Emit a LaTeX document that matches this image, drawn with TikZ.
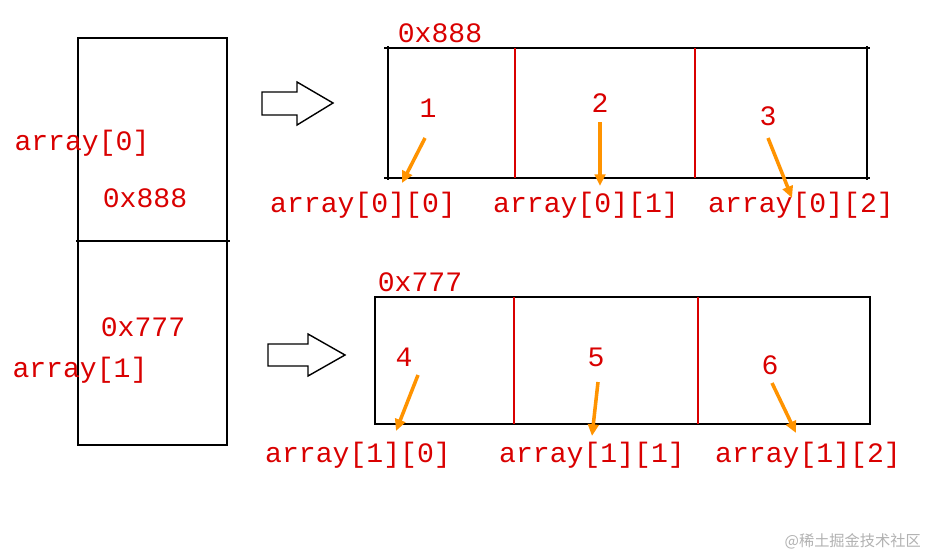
\documentclass[tikz,border=0pt]{standalone}
\usepackage{fontspec}
\setmainfont{Liberation Mono}
\newfontfamily\cjk{Noto Sans CJK SC}
\usetikzlibrary{arrows.meta}
\begin{document}
\begin{tikzpicture}[x=0.03cm,y=-0.03cm,
 box/.style={line width=1.6pt},
 sep/.style={red!85!black,line width=1.4pt},
 lab/.style={text=red!85!black,font=\fontsize{24}{26}\selectfont,inner sep=0pt},
 ptr/.style={draw=orange!85!yellow,line width=3pt,-{Triangle[length=10pt,width=9pt]},shorten <=0pt},
 hollow/.style={line width=1.2pt,fill=white}]
\useasboundingbox (0,0) rectangle (931,559);
\fill[white] (0,0) rectangle (931,559);
% left box
\draw[box] (78,38) rectangle (227,445);
\draw[box] (76,241) -- (230,241);
\node[lab] (a0) at (82,143) {array[0]};
\node[lab] (p0) at (145,198) {0x888};
\node[lab] (p1) at (143,327) {0x777};
\node[lab] (a1) at (80,370) {array[1]};
% hollow arrows
\draw[hollow] (262,92)--(297,92)--(297,82)--(333,103)--(297,125)--(297,115)--(262,115)--cycle;
\draw[hollow] (268,344)--(308,344)--(308,334)--(345,355)--(308,376)--(308,366)--(268,366)--cycle;
% top array
\draw[box] (384,48) -- (870,48);
\draw[box] (384,178) -- (870,178);
\draw[box] (388,46) -- (388,180);
\draw[box] (867,46) -- (867,180);
\draw[sep] (515,48) -- (515,178);
\draw[sep] (695,48) -- (695,178);
\node[lab] (t0) at (440,33) {0x888};
\node[lab] (n1) at (428,108) {1};
\node[lab] (n2) at (600,103) {2};
\node[lab] (n3) at (768,116) {3};
\node[lab] (e00) at (363,205) {array[0][0]};
\node[lab] (e01) at (586,205) {array[0][1]};
\node[lab] (e02) at (801,205) {array[0][2]};
\coordinate (c1) at (425,138); \coordinate (d1) at (402,183);
\coordinate (c2) at (600,122); \coordinate (d2) at (600,186);
\coordinate (c3) at (768,138); \coordinate (d3) at (792,198);
\draw[ptr] (c1) -- (d1);
\draw[ptr] (c2) -- (d2);
\draw[ptr] (c3) -- (d3);
% bottom array
\draw[box] (375,297) rectangle (870,424);
\draw[sep] (514,297) -- (514,424);
\draw[sep] (698,297) -- (698,424);
\node[lab] (t1) at (420,282) {0x777};
\node[lab] (n4) at (404,357) {4};
\node[lab] (n5) at (596,357) {5};
\node[lab] (n6) at (770,365) {6};
\node[lab] (e10) at (358,455) {array[1][0]};
\node[lab] (e11) at (592,455) {array[1][1]};
\node[lab] (e12) at (808,455) {array[1][2]};
\coordinate (c4) at (418,375); \coordinate (d4) at (396,431);
\coordinate (c5) at (598,382); \coordinate (d5) at (592,436);
\coordinate (c6) at (772,383); \coordinate (d6) at (796,433);
\draw[ptr] (c4) -- (d4);
\draw[ptr] (c5) -- (d5);
\draw[ptr] (c6) -- (d6);
\node[text=gray!60,font=\cjk\fontsize{13}{14}\selectfont,anchor=east] (wm) at (925,541) {@稀土掘金技术社区};
\end{tikzpicture}
\end{document}
